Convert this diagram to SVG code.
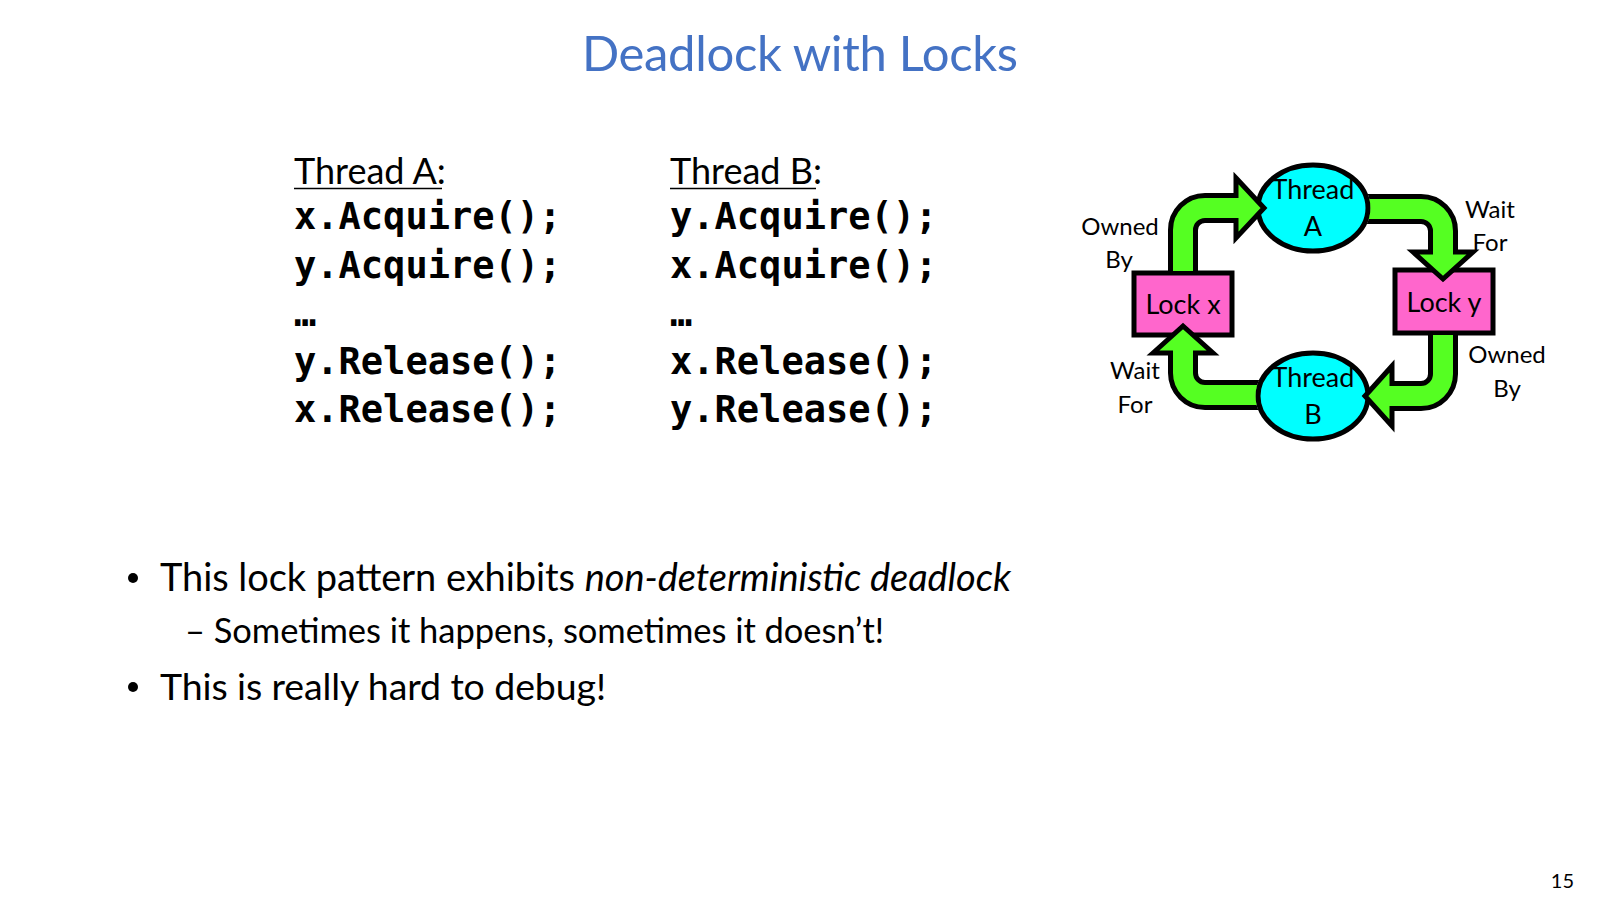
<svg xmlns="http://www.w3.org/2000/svg" width="1600" height="900" viewBox="0 0 1600 900">
<style>
.sans{font-family:Lato,"Liberation Sans",sans-serif;fill:#000}
.code{font-family:"DejaVu Sans Mono","Liberation Mono",monospace;font-weight:bold;font-size:37px;fill:#000}
.lbl{font-family:Lato,"Liberation Sans",sans-serif;font-size:24px;fill:#000}
.nt{font-family:Lato,"Liberation Sans",sans-serif;font-size:27px;fill:#000;text-anchor:middle}
.thread{fill:#00FFFF;stroke:#000;stroke-width:5}
.lock{fill:#FF66CC;stroke:#000;stroke-width:5}
.sb{fill:none;stroke:#000;stroke-width:30}
.sg{fill:none;stroke:#55FF22;stroke-width:20}
.hd{fill:#55FF22;stroke:#000;stroke-width:5;stroke-linejoin:miter}
</style>
<defs>
<clipPath id="outA"><path clip-rule="evenodd" d="M0 0H1600V900H0Z M1255.5 208a57.5 45.5 0 1 0 115 0a57.5 45.5 0 1 0 -115 0Z"/></clipPath>
<clipPath id="outB"><path clip-rule="evenodd" d="M0 0H1600V900H0Z M1255.5 396a57.5 45.5 0 1 0 115 0a57.5 45.5 0 1 0 -115 0Z"/></clipPath>
</defs>
<rect width="1600" height="900" fill="#fff"/>
<text x="800" y="71" text-anchor="middle" font-family="Lato,'Liberation Sans',sans-serif" font-size="49" fill="#4472C4" textLength="436">Deadlock with Locks</text>

<g id="code">
<text class="sans" x="294" y="184" font-size="36">Thread A:</text>
<line x1="294" y1="188.5" x2="442" y2="188.5" stroke="#000" stroke-width="1.5"/>
<text class="code" x="294" y="229">x.Acquire();</text>
<text class="code" x="294" y="278">y.Acquire();</text>
<text class="code" x="294" y="326">…</text>
<text class="code" x="294" y="374">y.Release();</text>
<text class="code" x="294" y="422">x.Release();</text>
<text class="sans" x="670" y="184" font-size="36">Thread B:</text>
<line x1="670" y1="188.5" x2="816" y2="188.5" stroke="#000" stroke-width="1.5"/>
<text class="code" x="670" y="229">y.Acquire();</text>
<text class="code" x="670" y="278">x.Acquire();</text>
<text class="code" x="670" y="326">…</text>
<text class="code" x="670" y="374">x.Release();</text>
<text class="code" x="670" y="422">y.Release();</text>
</g>

<g id="threadA"><ellipse class="thread" cx="1313" cy="208" rx="55" ry="43"/>
<text class="nt" x="1313" y="199">Thread</text><text class="nt" x="1313" y="236">A</text></g>
<g id="threadB"><ellipse class="thread" cx="1313" cy="396" rx="55" ry="43"/>
<text class="nt" x="1313" y="387">Thread</text><text class="nt" x="1313" y="424">B</text></g>
<g id="lockX"><rect class="lock" x="1134" y="273" width="98" height="62"/>
<text class="nt" x="1183" y="314">Lock x</text></g>
<g id="lockY"><rect class="lock" x="1395" y="270" width="98" height="63"/>
<text class="nt" x="1444" y="312">Lock y</text></g>

<g id="connectors">
<g id="e1">
<path class="sb" d="M1183 271V230A22 22 0 0 1 1205 208H1237"/>
<polygon class="hd" points="1236,178 1264,208 1236,238"/>
<path class="sg" d="M1183 271V230A22 22 0 0 1 1205 208H1240"/>
</g>
<g id="e2">
<path class="sb" clip-path="url(#outA)" d="M1350 209H1421A22 22 0 0 1 1443 231V253"/>
<polygon class="hd" points="1413,252 1443,279 1473,252"/>
<path class="sg" clip-path="url(#outA)" d="M1350 209H1421A22 22 0 0 1 1443 231V256"/>
</g>
<g id="e3">
<path class="sb" d="M1443 335V374A22 22 0 0 1 1421 396H1391"/>
<polygon class="hd" points="1392,366 1365,396 1392,426"/>
<path class="sg" d="M1443 335V374A22 22 0 0 1 1421 396H1388"/>
</g>
<g id="e4">
<path class="sb" clip-path="url(#outB)" d="M1275 395H1205A22 22 0 0 1 1183 373V354"/>
<polygon class="hd" points="1153,353 1183,326 1213,353"/>
<path class="sg" clip-path="url(#outB)" d="M1275 395H1205A22 22 0 0 1 1183 373V350"/>
</g>
<text class="lbl" x="1120" y="235" text-anchor="middle">Owned</text>
<text class="lbl" x="1119" y="268" text-anchor="middle">By</text>
<text class="lbl" x="1490" y="218" text-anchor="middle">Wait</text>
<text class="lbl" x="1490" y="251" text-anchor="middle">For</text>
<text class="lbl" x="1507" y="363" text-anchor="middle">Owned</text>
<text class="lbl" x="1507" y="397" text-anchor="middle">By</text>
<text class="lbl" x="1135" y="379" text-anchor="middle">Wait</text>
<text class="lbl" x="1135" y="413" text-anchor="middle">For</text>
</g>

<g id="bullets">
<circle cx="133" cy="578" r="5"/>
<text class="sans" x="160" y="591" font-size="38" textLength="851">This lock pattern exhibits <tspan font-style="italic">non-deterministic deadlock</tspan></text>
<text class="sans" x="185" y="643" font-size="34.5" textLength="699">– Sometimes it happens, sometimes it doesn’t!</text>
<circle cx="133" cy="687" r="5"/>
<text class="sans" x="160" y="700" font-size="37.5" textLength="446">This is really hard to debug!</text>
</g>
<text class="sans" x="1574" y="888" font-size="20" text-anchor="end">15</text>
</svg>
